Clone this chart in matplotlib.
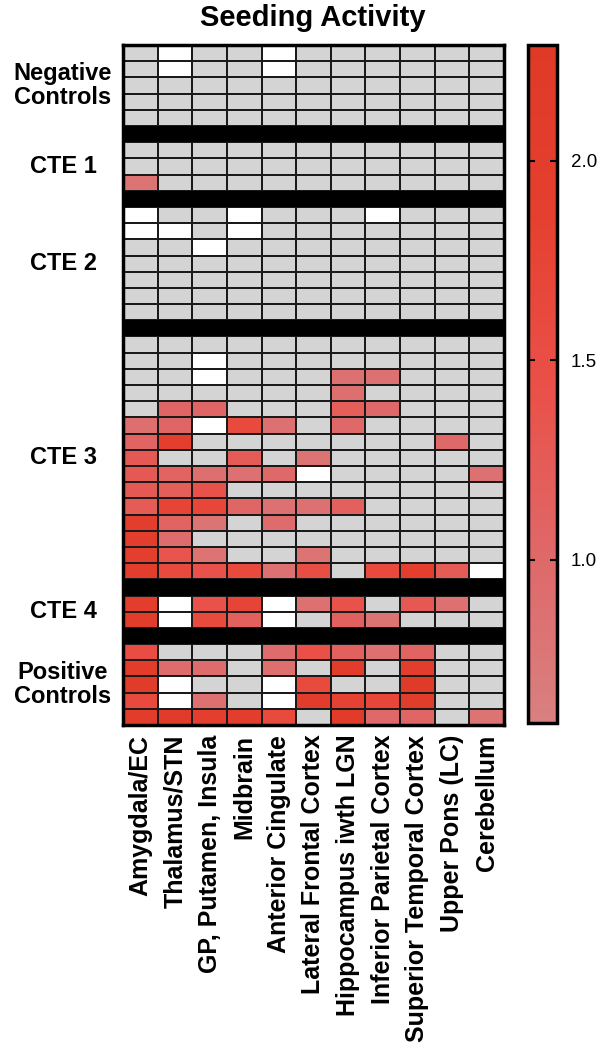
import matplotlib
matplotlib.use("Agg")
import matplotlib.pyplot as plt
import matplotlib.transforms as mtransforms
import numpy as np
from matplotlib.colors import LinearSegmentedColormap, ListedColormap, Normalize

plt.rcParams['font.family'] = ['Liberation Sans', 'DejaVu Sans']

W = np.nan  # missing sample (white cell); 0 = no seeding (gray cell)

regions = ['Amygdala/EC', 'Thalamus/STN', 'GP, Putamen, Insula', 'Midbrain',
           'Anterior Cingulate', 'Lateral Frontal Cortex', 'Hippocampus iwth LGN',
           'Inferior Parietal Cortex', 'Superior Temporal Cortex', 'Upper Pons (LC)',
           'Cerebellum']

group_names = ['Negative\nControls', 'CTE 1', 'CTE 2', 'CTE 3', 'CTE 4', 'Positive\nControls']

negative_controls = [
    [0, W, 0, 0, W, 0, 0, 0, 0, 0, 0],
    [0, W, 0, 0, W, 0, 0, 0, 0, 0, 0],
    [0, 0, 0, 0, 0, 0, 0, 0, 0, 0, 0],
    [0, 0, 0, 0, 0, 0, 0, 0, 0, 0, 0],
    [0, 0, 0, 0, 0, 0, 0, 0, 0, 0, 0],
]
cte1 = [
    [0, 0, 0, 0, 0, 0, 0, 0, 0, 0, 0],
    [0, 0, 0, 0, 0, 0, 0, 0, 0, 0, 0],
    [0.8, 0, 0, 0, 0, 0, 0, 0, 0, 0, 0],
]
cte2 = [
    [W, 0, 0, W, 0, 0, 0, W, 0, 0, 0],
    [W, W, 0, W, 0, 0, 0, 0, 0, 0, 0],
    [0, 0, W, 0, 0, 0, 0, 0, 0, 0, 0],
    [0, 0, 0, 0, 0, 0, 0, 0, 0, 0, 0],
    [0, 0, 0, 0, 0, 0, 0, 0, 0, 0, 0],
    [0, 0, 0, 0, 0, 0, 0, 0, 0, 0, 0],
    [0, 0, 0, 0, 0, 0, 0, 0, 0, 0, 0],
]
cte3 = [
    [0, 0, 0, 0, 0, 0, 0, 0, 0, 0, 0],
    [0, 0, W, 0, 0, 0, 0, 0, 0, 0, 0],
    [0, 0, W, 0, 0, 0, 0.85, 0.85, 0, 0, 0],
    [0, 0, 0, 0, 0, 0, 0.9, 0, 0, 0, 0],
    [0, 1.05, 1.05, 0, 0, 0, 1.2, 1.0, 0, 0, 0],
    [0.9, 1.05, W, 1.6, 0.85, 0, 1.0, 0, 0, 0, 0],
    [1.1, 1.9, 0, 0, 0, 0, 0, 0, 0, 1.0, 0],
    [1.3, 0, 0, 1.25, 0, 0.8, 0, 0, 0, 0, 0],
    [1.3, 1.1, 0.9, 0.85, 1.0, W, 0, 0, 0, 0, 0.85],
    [1.3, 1.2, 1.4, 0, 0, 0, 0, 0, 0, 0, 0],
    [1.25, 1.75, 1.7, 1.05, 0.85, 0.85, 1.15, 0, 0, 0, 0],
    [2.0, 1.1, 0.8, 0, 0.95, 0, 0, 0, 0, 0, 0],
    [2.0, 0.95, 0, 0, 0, 0, 0, 0, 0, 0, 0],
    [1.9, 1.35, 0.8, 0, 0, 0.8, 0, 0, 0, 0, 0],
    [2.0, 1.6, 1.4, 1.6, 0.85, 1.5, 0, 1.6, 1.9, 1.25, W],
]
cte4 = [
    [2.0, W, 1.4, 1.75, W, 0.85, 1.4, 0, 1.3, 0.85, 0],
    [2.1, W, 1.6, 1.15, W, 0, 1.15, 0.8, 0, 0, 0],
]
positive_controls = [
    [1.55, 0, 0, 0, 0.95, 1.45, 1.15, 0.85, 1.1, 0, 0],
    [2.1, 0.95, 0.95, 0, 0.9, 0, 2.1, 0, 2.0, 0, 0],
    [2.15, W, 0, 0, W, 1.6, 0, 0, 2.2, 0, 0],
    [1.6, W, 0.85, 0, W, 2.05, 1.8, 1.7, 2.1, 0, 0],
    [2.1, 2.15, 1.95, 2.0, 1.6, 0, 2.15, 1.0, 1.05, 0, 0.8],
]
groups = [negative_controls, cte1, cte2, cte3, cte4, positive_controls]

vmin, vmax = 0.59, 2.29
cbar_ticks = [1.0, 1.5, 2.0]

# stack the groups with one black separator row between them
n_cols = len(regions)
rows = []
separators = []
centers = []
for i, g in enumerate(groups):
    if i > 0:
        separators.append(len(rows))
        rows.append([W] * n_cols)
    start = len(rows)
    rows.extend(g)
    centers.append((start + len(rows)) / 2)
grid = np.array(rows, dtype=float)
n_rows = grid.shape[0]
is_sep = np.zeros(n_rows, dtype=bool)
is_sep[separators] = True

cmap = LinearSegmentedColormap.from_list(
    'seed', ['#d98080', '#df6868', '#ea5048', '#e5402f', '#df3a28'])
norm = Normalize(vmin=vmin, vmax=vmax)

fig = plt.figure(figsize=(6, 10.5), dpi=100)
ax = fig.add_axes([0.205, 0.3095, 0.635, 0.6476])
cax = fig.add_axes([0.88, 0.3114, 0.048, 0.6457])

x_edges = np.arange(n_cols + 1)
y_edges = np.arange(n_rows + 1)

# gray / white background cells
bg = np.full(grid.shape, np.nan)
bg[grid == 0] = 0
bg[np.isnan(grid)] = 1
bg[is_sep, :] = np.nan
ax.pcolormesh(x_edges, y_edges, np.ma.masked_invalid(bg),
              cmap=ListedColormap(['#d4d4d4', '#ffffff']), vmin=0, vmax=1,
              edgecolors='#1a1a1a', linewidth=1.2)

# seeding values
vals = np.ma.masked_where(~(grid > 0), grid)
mesh = ax.pcolormesh(x_edges, y_edges, vals, cmap=cmap, norm=norm,
                     edgecolors='#1a1a1a', linewidth=1.2)

for s in separators:
    ax.axhspan(s, s + 1, color='black', lw=0)

ax.set_xlim(0, n_cols)
ax.set_ylim(n_rows, 0)
ax.set_xticks(np.arange(n_cols) + 0.5)
ax.set_xticklabels(regions, rotation=90, fontsize=18, fontweight='bold',
                   va='top', ha='center')
ax.set_yticks([])
ax.tick_params(axis='x', length=0, pad=7)
for sp in ax.spines.values():
    sp.set_linewidth(2.5)

trans = mtransforms.blended_transform_factory(fig.transFigure, ax.transData)
for name, c in zip(group_names, centers):
    ax.text(0.105, c, name, transform=trans, ha='center', va='center',
            fontsize=17, fontweight='bold', linespacing=1.05)

fig.text(0.522, 0.983, 'Seeding Activity', ha='center', va='center',
         fontsize=21, fontweight='bold')

cbar = fig.colorbar(mesh, cax=cax, ticks=cbar_ticks, format='%.1f')
cbar.outline.set_linewidth(2.5)
cax.tick_params(direction='in', left=True, right=True, length=5, width=1.5,
                labelsize=13.5, pad=10)

fig.savefig('out.png', dpi=100)
